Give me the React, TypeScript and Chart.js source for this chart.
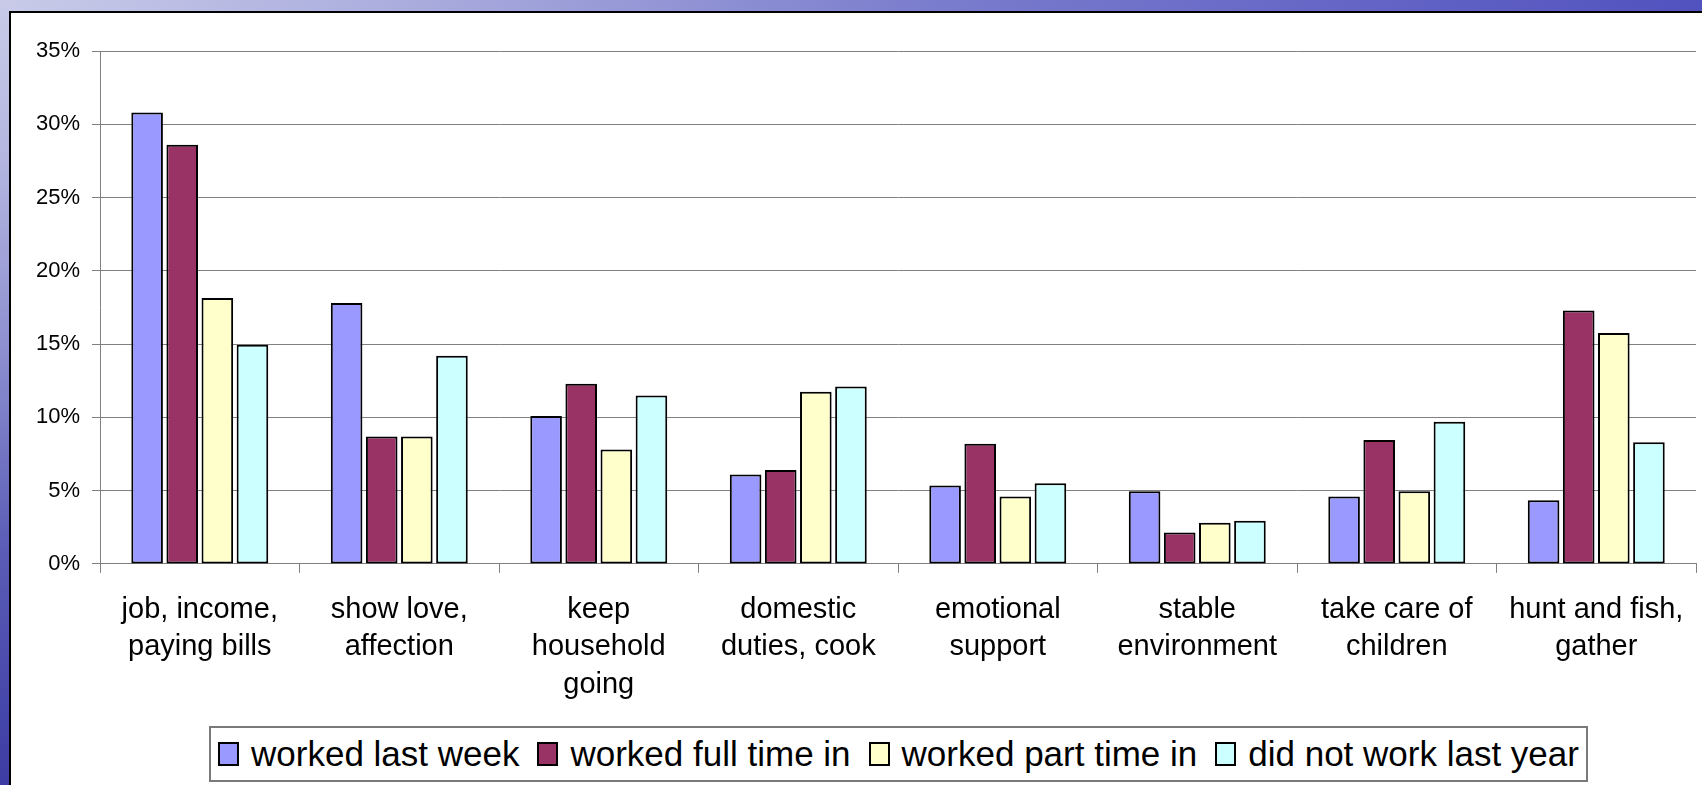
import React, { useEffect, useRef } from "react";
import { Chart, registerables } from "chart.js";

Chart.register(...registerables);

const categories: string[][] = [
  ["job, income,", "paying bills"],
  ["show love,", "affection"],
  ["keep", "household", "going"],
  ["domestic", "duties, cook"],
  ["emotional", "support"],
  ["stable", "environment"],
  ["take care of", "children"],
  ["hunt and fish,", "gather"],
];

const seriesNames = [
  "worked last week",
  "worked full time in",
  "worked part time in",
  "did not work last year",
];

const workedLastWeek = [30.8, 17.8, 10.1, 6.1, 5.35, 4.95, 4.6, 4.35];
const workedFullTime = [28.6, 8.7, 12.3, 6.4, 8.2, 2.15, 8.45, 17.3];
const workedPartTime = [18.15, 8.7, 7.8, 11.75, 4.6, 2.8, 4.95, 15.75];
const didNotWork = [14.95, 14.2, 11.5, 12.1, 5.5, 2.95, 9.7, 8.3];

const seriesColors = ["#9999FF", "#993366", "#FFFFCC", "#CCFFFF"];

const yTicks = [0, 5, 10, 15, 20, 25, 30, 35];

const FONT = "'Liberation Sans', Arial, sans-serif";

export default function App() {
  const ref = useRef<HTMLCanvasElement | null>(null);

  useEffect(() => {
    if (!ref.current) return;
    const seriesValues = [workedLastWeek, workedFullTime, workedPartTime, didNotWork];
    const chart = new Chart(ref.current, {
      type: "bar",
      data: {
        labels: categories,
        datasets: seriesNames.map((name, i) => ({
          label: name,
          data: seriesValues[i],
          backgroundColor: seriesColors[i],
          borderColor: "#000000",
          borderWidth: 2,
          borderSkipped: false,
          categoryPercentage: 0.704,
          barPercentage: 0.9,
        })),
      },
      options: {
        responsive: false,
        animation: false,
        events: [],
        layout: { padding: { top: 38, right: 6, bottom: 63, left: 13 } },
        plugins: {
          legend: { display: false },
          tooltip: { enabled: false },
          title: { display: false },
        },
        scales: {
          x: {
            grid: {
              display: true,
              drawOnChartArea: false,
              drawTicks: true,
              tickLength: 9,
              color: "#808080",
              offset: true,
            },
            border: { display: true, color: "#808080", width: 1 },
            ticks: {
              color: "#000000",
              font: { family: FONT, size: 29, lineHeight: 1.3 },
              padding: 18,
              maxRotation: 0,
              autoSkip: false,
            },
          },
          y: {
            min: 0,
            max: 35,
            afterBuildTicks: (axis: any) => {
              axis.ticks = yTicks.map((v) => ({ value: v }));
            },
            grid: {
              color: "#808080",
              lineWidth: 1,
              drawTicks: true,
              tickLength: 8,
            },
            border: { display: true, color: "#808080", width: 1 },
            ticks: {
              color: "#000000",
              font: { family: FONT, size: 22 },
              padding: 12,
              callback: (v: any) => `${v}%`,
            },
          },
        },
      },
    });
    return () => chart.destroy();
  }, []);

  return (
    <div
      style={{
        position: "fixed",
        left: 0,
        top: 0,
        width: 1702,
        height: 785,
        overflow: "hidden",
        background:
          "linear-gradient(to right, #c9cbe9 0%, #a9abdd 25%, #7a7ccd 55%, #5252bf 100%)",
      }}
    >
      <div
        style={{
          position: "absolute",
          left: 0,
          top: 0,
          width: 12,
          height: 785,
          background:
            "linear-gradient(to bottom, #c9cbe9 0%, #b4b6e0 20%, #8c8ed0 45%, #5a5cb6 70%, #3c3ca4 100%)",
        }}
      />
      <div
        style={{
          position: "absolute",
          left: 9,
          top: 11,
          width: 1702 - 9,
          height: 785 - 11,
          background: "#ffffff",
          borderLeft: "2px solid #000000",
          borderTop: "2px solid #000000",
        }}
      >
        <canvas
          ref={ref}
          width={1691}
          height={772}
          style={{ display: "block", width: 1691, height: 772 }}
        />
      </div>
      <div
        style={{
          position: "absolute",
          left: 209,
          top: 726,
          width: 1379,
          height: 56,
          boxSizing: "border-box",
          border: "2px solid #7a7a7a",
          background: "#ffffff",
          display: "flex",
          alignItems: "center",
          justifyContent: "center",
          fontFamily: FONT,
          fontSize: 35,
          color: "#000000",
          whiteSpace: "nowrap",
        }}
      >
        {seriesNames.map((name, i) => (
          <div
            key={name}
            style={{
              display: "flex",
              alignItems: "center",
              marginRight: i === seriesNames.length - 1 ? 0 : 18,
            }}
          >
            <span
              style={{
                display: "inline-block",
                width: 21,
                height: 24,
                boxSizing: "border-box",
                border: "2px solid #000000",
                background: seriesColors[i],
                marginRight: 12,
              }}
            />
            <span style={{ lineHeight: "40px" }}>{name}</span>
          </div>
        ))}
      </div>
    </div>
  );
}
